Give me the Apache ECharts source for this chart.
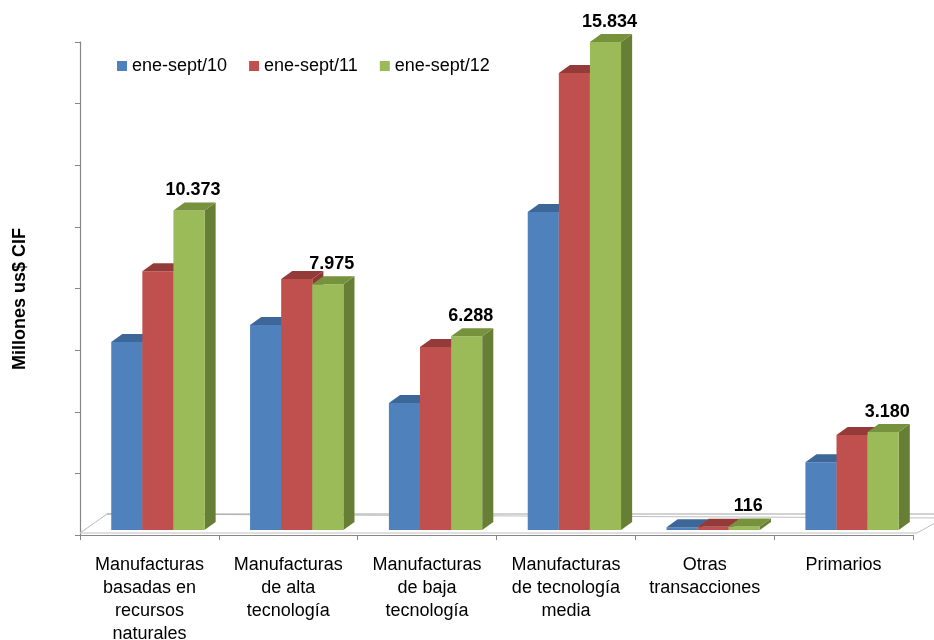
<!DOCTYPE html>
<html>
<head>
<meta charset="utf-8">
<script src="https://cdn.jsdelivr.net/npm/echarts@6/dist/echarts.min.js"></script>
<style>html,body{margin:0;padding:0;background:#fff}#c{width:934px;height:640px}</style>
</head>
<body>
<div id="c"></div>
<script>
const categories = [
  'Manufacturas\nbasadas en\nrecursos\nnaturales',
  'Manufacturas\nde alta\ntecnología',
  'Manufacturas\nde baja\ntecnología',
  'Manufacturas\nde tecnología\nmedia',
  'Otras\ntransacciones',
  'Primarios'
];
const seriesNames = ['ene-sept/10', 'ene-sept/11', 'ene-sept/12'];
const values10 = [6100, 6650, 4120, 10320, 90, 2200];
const values11 = [8400, 8150, 5940, 14830, 105, 3080];
const values12 = [10373, 7975, 6288, 15834, 116, 3180];
const yTicks = { min: 0, max: 16000, interval: 2000 };
const yTitle = 'Millones us$ CIF';

const FONT = '"Liberation Sans", Arial, sans-serif';
const palette = [
  { front: '#4F81BD', top: '#3D6699', side: '#385D8A' },
  { front: '#C0504D', top: '#943B39', side: '#8C3836' },
  { front: '#9BBB59', top: '#76923C', side: '#677F35' }
];

function fmt(v) { return String(v).replace(/\B(?=(\d{3})+(?!\d))/g, '.'); }

function makeRender(sIdx, showLabel) {
  return function (params, api) {
    const cat = api.value(0), v = api.value(1);
    const p = api.coord([cat, v]);
    const p0 = api.coord([cat, 0]);
    const bw = api.size([1, 0])[0];
    const left = p[0] - bw / 2;
    const fw = bw * 0.224;
    const x0 = left + bw * 0.225 + sIdx * fw;
    const x1 = x0 + fw;
    const lift = 5;
    const yb = p0[1] - lift, yt = p[1] - lift;
    const dx = bw * 0.08, dy = 8;
    const c = palette[sIdx];
    const children = [
      { type: 'polygon', shape: { points: [[x1, yb], [x1 + dx, yb - dy], [x1 + dx, yt - dy], [x1, yt]] }, style: { fill: c.side } },
      { type: 'rect', shape: { x: x0, y: yt, width: fw, height: yb - yt }, style: { fill: c.front } },
      { type: 'polygon', shape: { points: [[x0, yt], [x0 + dx, yt - dy], [x1 + dx, yt - dy], [x1, yt]] }, style: { fill: c.top } }
    ];
    if (showLabel) {
      children.push({
        type: 'text',
        style: {
          text: fmt(v), x: x0 + fw / 2 + 4, y: yt - dy - 3,
          align: 'center', verticalAlign: 'bottom',
          font: 'bold 18px ' + FONT, fill: '#000'
        }
      });
    }
    return { type: 'group', children: children };
  };
}

function floorRender(params, api) {
  const cs = params.coordSys;
  const yf = cs.y + cs.height - 2;
  const bx = 27, by = 19;
  return {
    type: 'group',
    children: [
      { type: 'polygon', shape: { points: [[cs.x, yf], [cs.x + cs.width + 4, yf], [cs.x + cs.width + 4 + bx, yf - by + 4], [cs.x + bx, yf - by]] },
        style: { fill: '#fff', stroke: '#BFBFBF', lineWidth: 1 } },
      { type: 'line', shape: { x1: cs.x + bx, y1: yf - by, x2: cs.x + cs.width + bx + 4, y2: yf - by }, style: { stroke: '#A6A6A6', lineWidth: 1.2 } },
      { type: 'line', shape: { x1: cs.x, y1: yf, x2: cs.x + bx, y2: yf - by }, style: { stroke: '#C8C8C8', lineWidth: 1, lineDash: [2, 3] } }
    ]
  };
}

const valueSets = [values10, values11, values12];
const series = [{
  type: 'custom', name: 'floor', silent: true, z: 1,
  renderItem: floorRender, data: [[0, 0]], encode: { x: 0, y: 1 }
}];
seriesNames.forEach(function (name, i) {
  series.push({
    type: 'custom', name: name, z: 2 + i,
    itemStyle: { color: palette[i].front },
    renderItem: makeRender(i, i === 2),
    encode: { x: 0, y: 1 },
    data: valueSets[i].map(function (v, k) { return [k, v]; })
  });
});

const chart = echarts.init(document.getElementById('c'), null, { renderer: 'canvas' });
chart.setOption({
  animation: false,
  backgroundColor: '#fff',
  textStyle: { fontFamily: FONT },
  grid: { left: 80, right: 21, top: 42, bottom: 105, containLabel: false, outerBoundsMode: 'none' },
  legend: {
    data: seriesNames, left: 112, top: 52, icon: 'rect', itemWidth: 10, itemHeight: 10, itemGap: 22,
    textStyle: { fontSize: 18, color: '#000', fontFamily: FONT }
  },
  graphic: [{
    type: 'text', left: 11, top: 228, rotation: Math.PI / 2,
    style: { text: yTitle, font: 'bold 18px ' + FONT, fill: '#000' }
  }],
  xAxis: {
    type: 'category', data: categories, boundaryGap: true,
    axisLine: { lineStyle: { color: '#868686', width: 1.2 } },
    axisTick: { show: true, length: 5, lineStyle: { color: '#868686' } },
    axisLabel: { interval: 0, margin: 19, fontSize: 18, lineHeight: 23, color: '#000', fontFamily: FONT, align: 'center', verticalAlign: 'top' }
  },
  yAxis: {
    type: 'value', min: yTicks.min, max: yTicks.max, interval: yTicks.interval,
    axisLine: { show: true, lineStyle: { color: '#868686', width: 1.2 } },
    axisTick: { show: true, length: 5, lineStyle: { color: '#868686' } },
    axisLabel: { show: false },
    splitLine: { show: false }
  },
  series: series
});
</script>
</body>
</html>
